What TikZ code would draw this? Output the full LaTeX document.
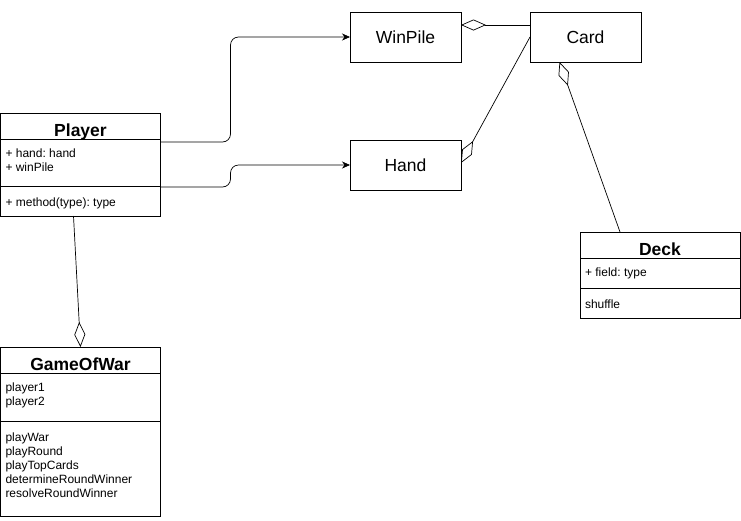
\documentclass[tikz,border=0pt]{standalone}
\usepackage{fontspec}
\setmainfont{Liberation Sans}
\usetikzlibrary{arrows.meta, positioning, calc}
\frenchspacing

\newcommand{\classpart}[3][18pt]{\parbox[c][#2][t]{150pt}{\raggedright\rule{0pt}{#1}#3}}

\begin{document}
\begin{tikzpicture}[
    x=1pt, y=-1pt,
    head/.style={rectangle, draw=black, line width=0.8pt, outer sep=0pt, minimum width=160pt, minimum height=26pt, inner ysep=0pt, text height=20pt, text depth=0pt, anchor=north west, font=\bfseries\fontsize{17.5}{20}\selectfont},
    part/.style={rectangle, draw=black, line width=0.8pt, outer sep=0pt, inner xsep=5pt, inner ysep=0pt, font=\fontsize{12}{14}\selectfont},
    box/.style={rectangle, draw=black, line width=0.8pt, outer sep=0pt, minimum width=111pt, minimum height=50pt, anchor=north west, font=\fontsize{17.5}{20}\selectfont},
    arrow/.style={line width=0.7pt, rounded corners=8pt, -{Stealth[length=8pt,width=7pt]}},
    aggr/.style={line width=0.7pt, -{Diamond[open,length=25pt,width=11pt]}}
]
\useasboundingbox (0,0) rectangle (741,520);

% Player class
\node[head] (player) at (0.5,113) {Player};
\node[part, below=0pt of player] (playerattr) {\classpart{47pt}{+ hand: hand\\+ winPile}};
\node[part, below=0pt of playerattr] (playerops) {\classpart[20pt]{30pt}{+ method(type): type}};

% GameOfWar class
\node[head] (gow) at (0.5,347) {GameOfWar};
\node[part, below=0pt of gow] (gowattr) {\classpart{48pt}{player1\\player2}};
\node[part, below=0pt of gowattr] (gowops) {\classpart[20pt]{95pt}{playWar\\playRound\\playTopCards\\determineRoundWinner\\resolveRoundWinner}};

% Deck class
\node[head] (deck) at (580,232) {Deck};
\node[part, below=0pt of deck] (deckattr) {\classpart{30pt}{+ field: type}};
\node[part, below=0pt of deckattr] (deckops) {\classpart[20pt]{30pt}{shuffle}};

% Simple boxes
\node[box] (winpile) at (350,12) {WinPile};
\node[box] (card) at (530,12) {Card};
\node[box] (hand) at (350,140) {Hand};

% Arrows
\draw[arrow] ([yshift=-3pt]playerattr.north east) -- ++(70,0) |- (winpile);
\draw[arrow] ([yshift=-1pt]playerops.north east) -- ++(70,0) |- (hand);

% Aggregations
\draw[aggr] ([yshift=12pt]card.west) -- ([yshift=12pt]winpile.east);
\draw[aggr] (card.west) -- ([yshift=2pt]hand.east);
\draw[aggr] ([xshift=40pt]deck.north west) -- ([xshift=-26pt]card.south);
\draw[aggr] ([xshift=-7pt]playerops.south) -- (gow.north);

\end{tikzpicture}
\end{document}
